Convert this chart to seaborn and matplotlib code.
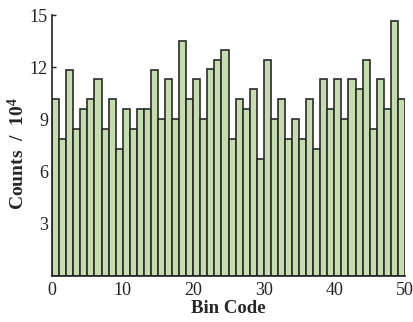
import numpy as np
import pandas as pd
import matplotlib
matplotlib.use("Agg")
import matplotlib.pyplot as plt
import seaborn as sns

bin_codes = list(range(50))
counts = [10.2, 7.89, 11.85, 8.46, 9.62, 10.2, 11.3, 8.46, 10.2, 7.31,
          9.62, 8.46, 9.62, 9.62, 11.85, 9.04, 11.3, 9.04, 13.54, 10.2,
          11.3, 9.04, 11.9, 12.42, 12.98, 7.89, 10.2, 9.62, 10.73, 6.75,
          12.42, 9.04, 10.2, 7.89, 9.04, 7.89, 10.2, 7.31, 11.3, 9.62,
          11.3, 9.04, 11.3, 10.73, 12.42, 8.46, 11.3, 9.62, 14.67, 10.2]
x_ticks = [0, 10, 20, 30, 40, 50]
y_ticks = [3, 6, 9, 12, 15]

sns.set_style("ticks")
plt.rcParams['font.family'] = ['Liberation Serif', 'DejaVu Serif']
plt.rcParams['mathtext.fontset'] = 'custom'
plt.rcParams['mathtext.bf'] = 'Liberation Serif:bold'
plt.rcParams['mathtext.rm'] = 'Liberation Serif'

df = pd.DataFrame({"code": [c + 0.5 for c in bin_codes], "count": counts})

fig = plt.figure(figsize=(4.14, 3.22), dpi=100)
ax = fig.add_axes([0.126, 0.143, 0.852, 0.81])
sns.histplot(data=df, x="code", weights="count", bins=50, binrange=(0, 50),
             color="#c4dcae", edgecolor="#2a2a2a", linewidth=1.2, alpha=1.0, ax=ax)

ax.set_xlim(0, 50)
ax.set_ylim(0, 15)
ax.set_xticks(x_ticks)
ax.set_yticks(y_ticks)
ax.tick_params(axis='both', direction='in', labelsize=13, length=3, width=1, colors='#222222')
ax.tick_params(axis='x', length=0, pad=4)
ax.tick_params(axis='y', pad=3)
ax.set_xlabel("Bin Code", fontsize=13.5, fontweight='bold', labelpad=1)
ax.set_ylabel("Counts  /  10$\\mathbf{^{4}}$", fontsize=14, fontweight='bold', labelpad=5)
ax.yaxis.set_label_coords(-0.068, 0.47)
sns.despine(ax=ax)
for s in ['left', 'bottom']:
    ax.spines[s].set_linewidth(1.2)
    ax.spines[s].set_color('#222222')

fig.savefig("out.png", dpi=100)
